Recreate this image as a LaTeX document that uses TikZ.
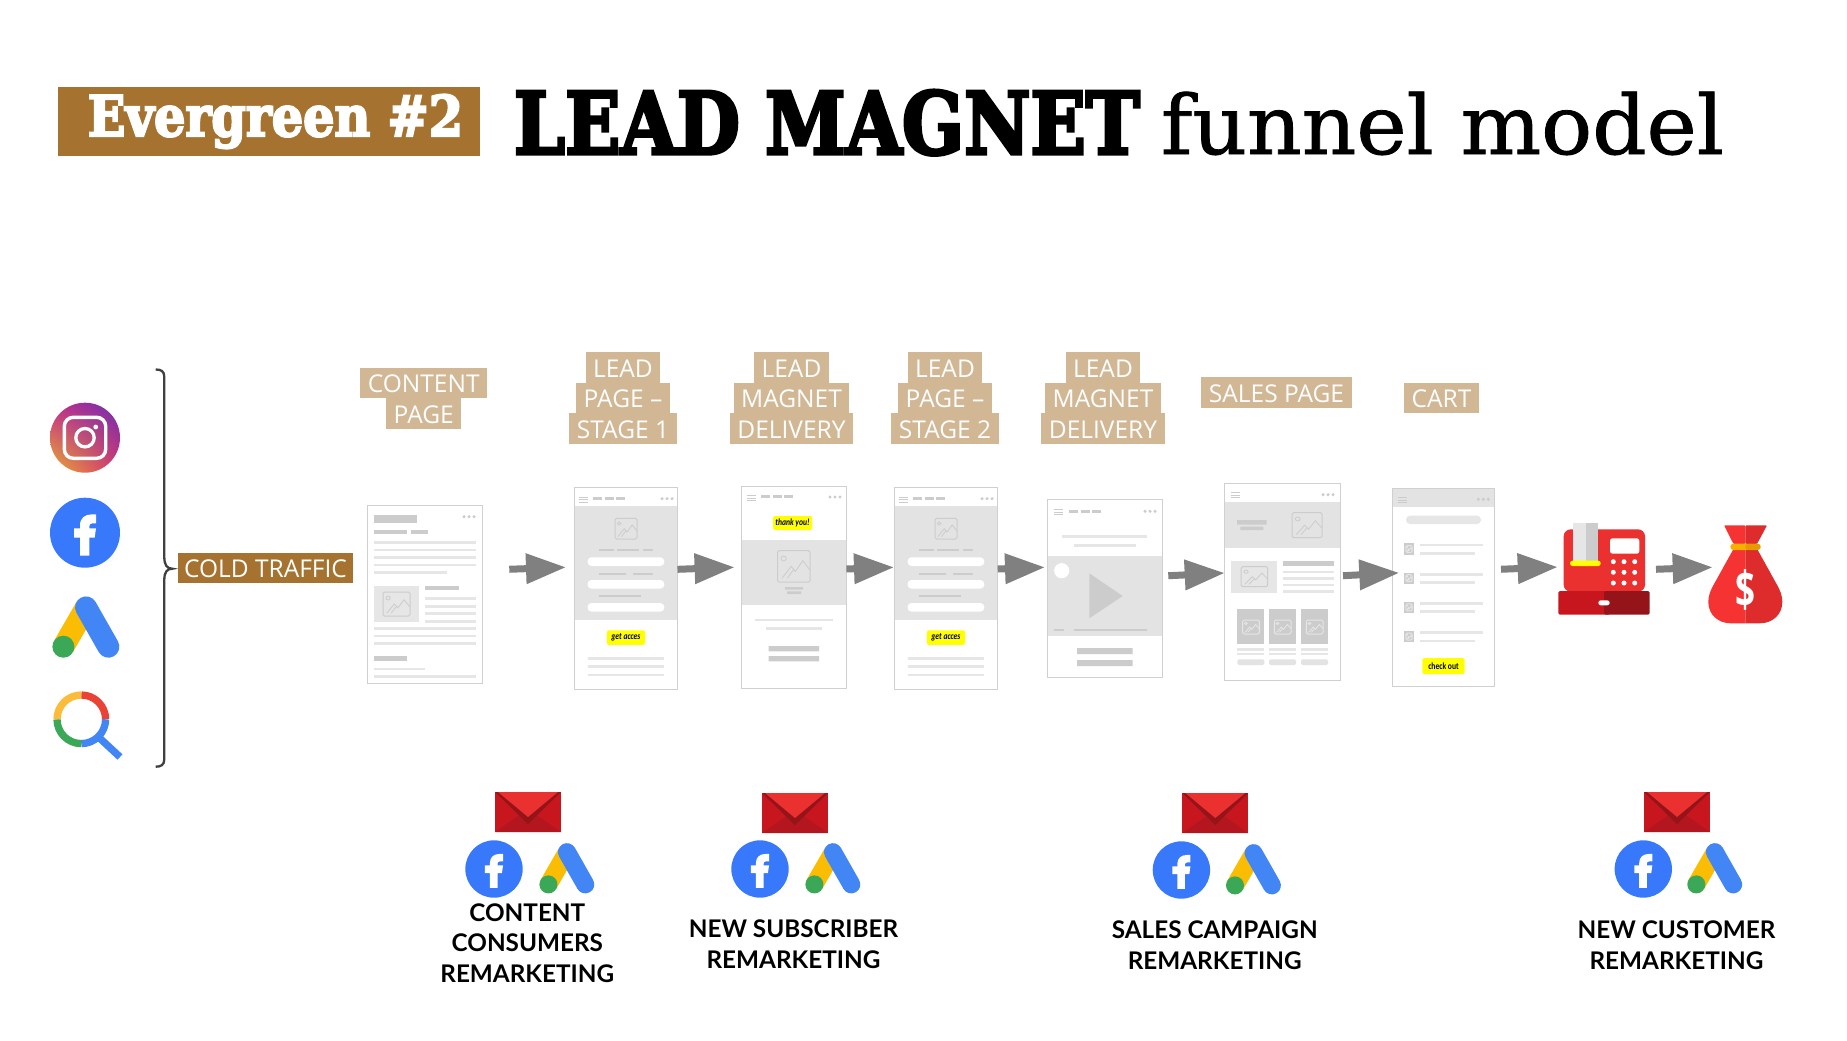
\documentclass[tikz,border=0pt]{standalone}
\usepackage{fontspec}
\usepackage{graphicx}
\usetikzlibrary{positioning, arrows.meta, shadings}
\newfontfamily\tagfont{Open Sans}
\newfontfamily\capfont{Lato}
\newfontfamily\btnfont{Carlito}
\newfontfamily\slabfont[FakeBold=1]{DejaVu Serif}
\newfontfamily\heavyslab[UprightFont={* Bold},FakeBold=4]{DejaVu Serif}
\definecolor{brownfill}{HTML}{A6722F}
\definecolor{tanfill}{HTML}{D2B795}
\definecolor{arrowgrey}{HTML}{808080}
\definecolor{barlight}{HTML}{E6E6E6}
\definecolor{bardark}{HTML}{CCCCCC}
\definecolor{bandgrey}{HTML}{E3E3E3}
\definecolor{edgegrey}{HTML}{D0D0D0}
\definecolor{ctayellow}{HTML}{FFFF00}
\definecolor{fbblue}{HTML}{3879FC}
\definecolor{adsyellow}{HTML}{FBBC04}
\definecolor{adsblue}{HTML}{4285F4}
\definecolor{adsgreen}{HTML}{3BA858}
\definecolor{lensred}{HTML}{EA4335}
\definecolor{lensyellow}{HTML}{FBBC3C}
\definecolor{redlight}{HTML}{EB3030}
\definecolor{redmid}{HTML}{C8161F}
\definecolor{reddeep}{HTML}{B3161F}
\definecolor{reddark}{HTML}{94141A}
\definecolor{bagleft}{HTML}{F53333}
\definecolor{bagright}{HTML}{DE2B2B}
\definecolor{instapink}{HTML}{C82A88}
\definecolor{instaviolet}{HTML}{6A30B5}
\definecolor{instagold}{HTML}{E8B030}
\definecolor{instarose}{HTML}{D83070}
\definecolor{tiegold}{HTML}{F5B000}
\definecolor{tiedark}{HTML}{E59A00}
\newcommand{\ctatext}[1]{\scalebox{.8}[1]{#1}}
\newcommand{\adsmark}[3]{\begin{scope}[shift={(#1,#2)},scale=#3]
	\draw[adsyellow,line width=#3*66] (-67,60) -- (1,-58);
	\draw[adsblue,line width=#3*66,line cap=round] (1,-58) -- (68,60);
	\fill[adsgreen] (-67,60) circle (33);
\end{scope}}
\newcommand{\imgmark}[5][bardark]{\begin{scope}[shift={(#2,#3)},xscale={(#4)-(#2)},yscale={(#5)-(#3)}]
	\draw[#1,line width=1,rounded corners=1.5] (0,0) rectangle (1,1);
	\draw[#1,line width=.8] (.19,.25) circle (.08);
	\draw[#1,line width=.8] (.14,.88) -- (.42,.5) -- (.55,.66) -- (.78,.32) -- (1,.62);
	\draw[#1,line width=.8] (.3,.88) -- (.5,.6);
\end{scope}}
\tikzset{
	tag/.style={fill=tanfill,text=white,font=\tagfont\fontsize{24.5}{30}\selectfont,inner xsep=7.5,inner ysep=0,outer sep=0,minimum height=30.5,text height=19.5,text depth=0},
	coldtag/.style={tag,fill=brownfill,inner xsep=6.5},
	rmk/.style={font=\capfont\bfseries\fontsize{24.3}{30.7}\selectfont,align=center,text=black},
	screen/.style={draw=edgegrey,line width=1,fill=white,inner sep=0,outer sep=0},
	holder/.style={inner sep=0,outer sep=0},
	cta/.style={fill=ctayellow,rounded corners=1.5,inner sep=0,outer sep=0,text=black,font=\btnfont\itshape\bfseries\fontsize{9.5}{10}\selectfont},
	flow/.style={draw=arrowgrey,line width=7,-{Triangle[length=40,width=29]}},
	lightbar/.style={draw=barlight,line width=2.6},
	darkbar/.style={draw=bardark,line width=3},
	fbicon/.pic={
		\fill[fbblue] (0,0) circle (105);
		\fill[white] (-15,69) -- (-15,15) -- (-33,15) -- (-33,-13) -- (-15,-13) -- (-15,-22) .. controls (-15,-44) and (0,-55) .. (20,-55) -- (33,-55) -- (33,-28) -- (22,-28) .. controls (16,-28) and (13,-25) .. (13,-19) -- (13,-13) -- (33,-13) -- (29,15) -- (13,15) -- (13,69) -- cycle;
	},
	menudots/.pic={
		\fill[bardark] (-5,0) circle (1.7) (0,0) circle (1.7) (5,0) circle (1.7);
	},
	burger/.pic={
		\draw[bardark,line width=.9] (-4.7,-2.4) -- (4.7,-2.4) (-4.7,0) -- (4.7,0) (-4.7,2.4) -- (4.7,2.4);
	},
	navbars/.pic={
		\draw[darkbar] (0,0) -- (9,0) (11.7,0) -- (20.7,0) (23.4,0) -- (32.4,0);
	},
	pill/.style={fill=white,rounded corners=4},
	mailicon/.pic={
		\fill[redmid] (-33,-20) rectangle (33,20);
		\fill[reddeep] (-33,20) -- (0,-3) -- (33,20) -- cycle;
		\fill[reddark] (-33,-20) -- (0,12) -- (33,-20) -- cycle;
		\fill[redlight] (-30,-20) -- (0,5) -- (30,-20) -- cycle;
	},
	formpage/.pic={
		\fill[bandgrey] (.5,18.7) rectangle (103,132.7);
		\pic at (9.5,12.3) {burger};
		\pic at (19,11) {navbars};
		\pic at (93,11.4) {menudots};
		\imgmark{41}{31}{63}{51.7}
		\draw[bardark,line width=1.8] (25,62.7) -- (40,62.7) (43,62.7) -- (65,62.7) (69,62.7) -- (78.5,62.7);
		\fill[pill] (13.5,70) rectangle (90.3,78.7);
		\draw[bardark,line width=1.8] (25,86.4) -- (52,86.4) (58.5,86.4) -- (78.5,86.4);
		\fill[pill] (13.5,92.7) rectangle (90.3,101.4);
		\draw[bardark,line width=1.8] (24.6,108.4) -- (67,108.4);
		\fill[pill] (13.5,115.7) rectangle (90.3,124.4);
		\node[cta,minimum width=38.2,minimum height=14.7] (-btn) at (51.9,150.3) {\ctatext{get acces}};
		\foreach \y in {171,179.4,187.7} \draw[lightbar] (13.5,\y) -- (90.3,\y);
	},
}
\begin{document}
\begin{tikzpicture}[x=1pt,y=-1pt]
	\useasboundingbox (0,0) rectangle (1847,1041);
	\node[coldtag,minimum width=422,minimum height=69,text height=,text depth=] (banner) at (269,121.5) {\raisebox{-5.5pt}{\hspace{13pt}\scalebox{.88}[1]{\heavyslab\fontsize{56}{60}\selectfont Evergreen \#2}}};
	\node[holder,anchor=base west] (titleA) at (514,154) {\scalebox{.845}[1]{\heavyslab\fontsize{86}{90}\selectfont LEAD MAGNET}};
	\node[holder,anchor=base west] (titleB) at (1161,154) {\scalebox{1.035}[1]{\slabfont\fontsize{82}{90}\selectfont funnel model}};

	\shade[upper left=instapink,upper right=instaviolet,lower left=instagold,lower right=instarose] (85,437.7) circle (35);
	\draw[white,line width=3.4,rounded corners=9] (64.3,417.3) rectangle (105.7,458.3);
	\draw[white,line width=3.3] (85,437.7) circle (9.2);
	\fill[white] (95.7,427) circle (2.4);
	\pic[scale=.3333] at (85,532.7) {fbicon};
	\adsmark{85.7}{626.7}{.3333}
	\draw[lensred,line width=7.3] (81.3,719.3) ++(270:24.3) arc (270:360:24.3);
	\draw[adsblue,line width=7.3] (81.3,719.3) ++(0:24.3) arc (0:90:24.3);
	\draw[adsgreen,line width=7.3] (81.3,719.3) ++(90:24.3) arc (90:180:24.3);
	\draw[lensyellow,line width=7.3] (81.3,719.3) ++(180:24.3) arc (180:270:24.3);
	\draw[adsblue,line width=7.3] (99,737.5) -- (120,757);
	\draw[black!75,line width=2.3] (155.7,369.5) .. controls (161,369.5) and (164.3,371) .. (164.3,377) -- (164.3,557) .. controls (164.3,565) and (167,568.7) .. (172.3,568.7) .. controls (167,568.7) and (164.3,572) .. (164.3,580) -- (164.3,759) .. controls (164.3,765) and (161,766.7) .. (155.7,766.7);
	\node[coldtag] (cold) at (265.5,568) {COLD TRAFFIC};

	\node[tag] (contentA) at (423.7,382.8) {CONTENT};
	\node[tag,below=0pt of contentA] (contentB) {PAGE};
	\node[tag] (leadA) at (623,367.5) {LEAD};
	\node[tag,below=0pt of leadA] (leadB) {PAGE –};
	\node[tag,below=0pt of leadB] (leadC) {STAGE 1};
	\node[tag] (magnetA) at (791.5,367.5) {LEAD};
	\node[tag,below=0pt of magnetA] (magnetB) {MAGNET};
	\node[tag,below=0pt of magnetB] (magnetC) {DELIVERY};
	\node[tag] (stageA) at (945,367.5) {LEAD};
	\node[tag,below=0pt of stageA] (stageB) {PAGE –};
	\node[tag,below=0pt of stageB] (stageC) {STAGE 2};
	\node[tag] (videoA) at (1103,367.5) {LEAD};
	\node[tag,below=0pt of videoA] (videoB) {MAGNET};
	\node[tag,below=0pt of videoB] (videoC) {DELIVERY};
	\node[tag] (sales) at (1276.5,392.5) {SALES PAGE};
	\node[tag] (cart) at (1441.5,398) {CART};

	\node[screen,minimum width=115,minimum height=178] (page1) at (425,594) {};
	\fill[bardark] (374,515) rectangle (416.7,523);
	\pic at (469,516.7) {menudots};
	\draw[bardark,line width=4.3] (374,532) -- (407,532) (410.7,532) -- (428,532);
	\foreach \y in {542.3,550,557.3,565} \draw[lightbar] (374,\y) -- (476,\y);
	\draw[lightbar] (374,572.3) -- (446.7,572.3);
	\fill[barlight] (374,585.7) rectangle (419.3,622.3);
	\imgmark{383}{592}{410}{616}
	\draw[bardark,line width=4.3] (425,588.2) -- (458.7,588.2);
	\foreach \y in {598.7,606.3,613.7,621.3} \draw[lightbar] (425,\y) -- (476,\y);
	\foreach \y in {628.7,636,643.7,676.3} \draw[lightbar] (374,\y) -- (476,\y);
	\draw[bardark,line width=4.5] (374,658.3) -- (407,658.3);
	\draw[lightbar] (374,669) -- (425,669);

	\node[screen,minimum width=103.5,minimum height=202] (page2) at (625.75,588.3) {};
	\pic (formA) at (574,487.3) {formpage};

	\node[screen,minimum width=104.6,minimum height=202] (page3) at (794.1,587.3) {};
	\pic at (751.5,498) {burger};
	\pic at (761,496.7) {navbars};
	\pic at (835,497) {menudots};
	\node[cta,minimum width=39,minimum height=14] (thanks) at (792.5,523) {\ctatext{thank you!}};
	\fill[bandgrey] (742.3,539.7) rectangle (845.9,605);
	\imgmark{777.5}{550.7}{810}{582}
	\fill[bardark] (785,587) rectangle (803,589.7) (787,591.3) rectangle (801,594);
	\draw[lightbar] (755,620) -- (833,620);
	\draw[lightbar] (766,628.3) -- (822,628.3);
	\fill[bardark] (768.6,646) rectangle (819,651.3) (768.6,656) rectangle (819,661.3);

	\node[screen,minimum width=103.7,minimum height=202] (page4) at (945.85,588.3) {};
	\pic (formB) at (894,487.3) {formpage};

	\node[screen,minimum width=115.4,minimum height=178.4] (page5) at (1105,588.5) {};
	\pic at (1058.5,512.3) {burger};
	\pic at (1069,511) {navbars};
	\pic at (1150,511.3) {menudots};
	\draw[lightbar] (1062.3,536.3) -- (1147.3,536.3);
	\draw[lightbar] (1074.3,545.7) -- (1135.7,545.7);
	\fill[bandgrey] (1047.8,556) rectangle (1162.2,636);
	\fill[white] (1061.7,570.7) circle (7.6);
	\fill[bardark] (1089.3,573.3) -- (1122.7,596) -- (1089.3,618.3) -- cycle;
	\draw[bardark,line width=2.2] (1054.3,630) -- (1064,630) (1073.7,630) -- (1147,630);
	\fill[bardark] (1077,648) rectangle (1132.7,654) (1077,660) rectangle (1132.7,666);

	\node[screen,minimum width=116,minimum height=196.6] (page6) at (1282.7,582) {};
	\pic at (1235.7,495.3) {burger};
	\pic at (1328,494.7) {menudots};
	\fill[bandgrey] (1225.2,502) rectangle (1340.2,548.3);
	\fill[bardark] (1237,520) rectangle (1266.7,524.7) (1240.3,526.7) rectangle (1263.3,530);
	\imgmark{1292}{512.7}{1322}{537.7}
	\fill[barlight] (1231,561) rectangle (1277.3,592.7);
	\imgmark{1241}{566.7}{1267.7}{586.7}
	\draw[bardark,line width=5] (1283,563.5) -- (1334.3,563.5);
	\foreach \y in {572,578.7,585,591.7} \draw[lightbar] (1283,\y) -- (1334.3,\y);
	\foreach \x in {1237.3,1269,1301} {
		\fill[bardark] (\x,609.3) rectangle ++(27,34.7);
		\imgmark[barlight]{\x+5.4}{620}{\x+22}{634}
		\draw[lightbar] (\x,649.3) -- ++(27,0);
		\draw[lightbar] (\x,654) -- ++(27,0);
		\fill[bandgrey,rounded corners=1.5] (\x,659.3) rectangle ++(27,5.7);
	}

	\node[screen,minimum width=102.4,minimum height=198] (page7) at (1443.5,587.3) {};
	\fill[bandgrey] (1392.8,488.8) rectangle (1494.2,507);
	\pic at (1402.3,500.3) {burger};
	\pic at (1483.3,499.3) {menudots};
	\fill[barlight,rounded corners=4] (1406,515.7) rectangle (1481,524);
	\foreach \y in {0,29.2,58.4,87.6} {
		\fill[bardark] (1404,543.3+\y) rectangle (1414,554.7+\y);
		\imgmark[barlight]{1405.8}{545.5+\y}{1412.2}{552.5+\y}
		\draw[lightbar] (1420,545+\y) -- (1483,545+\y);
		\draw[lightbar] (1420,553.3+\y) -- (1475.3,553.3+\y);
	}
	\node[cta,minimum width=42.4,minimum height=16,font=\btnfont\bfseries\fontsize{9.5}{10}\selectfont] (checkout) at (1443.5,666) {\ctatext{check out}};

	\node[holder,minimum width=91.4,minimum height=91.4] (till) at (1604,569) {};
	\fill[redlight,rounded corners=7] (1563.7,591.7) -- (1563.7,529.3) -- (1645,529.3) -- (1645,591.7) -- cycle;
	\fill[barlight] (1573.3,523.3) rectangle (1585.7,563.3);
	\fill[bardark] (1585.7,523.3) rectangle (1598.3,563.3);
	\fill[ctayellow,rounded corners=2.5] (1570,560.7) rectangle (1600.7,566);
	\fill[white,rounded corners=2.5] (1610,538.3) rectangle (1639.3,553.7);
	\foreach \x in {1613.3,1624,1634.7} \foreach \y in {561.7,572.3,583} \fill[white] (\x,\y) circle (2.5);
	\fill[redmid,rounded corners=1.5] (1558.3,591) rectangle (1610,614.7);
	\fill[reddark,rounded corners=1.5] (1604,591) rectangle (1649.7,614.7);
	\fill[white,rounded corners=2.5] (1598.3,600.3) rectangle (1609.7,605.3);

	\node[holder,minimum width=73.6,minimum height=98] (bag) at (1745.5,574.3) {};
	\fill[bagleft,rounded corners=1] (1745.3,525.3) -- (1724,525.3) -- (1733.5,544) -- (1745.3,544) -- cycle;
	\fill[bagright,rounded corners=1] (1745.3,525.3) -- (1767,525.3) -- (1757,544) -- (1745.3,544) -- cycle;
	\fill[bagleft] (1745.3,550) -- (1732.9,550) -- (1714.6,583) .. controls (1710.6,590) and (1708.3,595) .. (1708.3,602) .. controls (1708.3,615) and (1718.6,623.3) .. (1730.6,623.3) -- (1745.3,623.3) -- cycle;
	\fill[bagright] (1745.3,550) -- (1757.7,550) -- (1776,583) .. controls (1780,590) and (1782.3,595) .. (1782.3,602) .. controls (1782.3,615) and (1772,623.3) .. (1760,623.3) -- (1745.3,623.3) -- cycle;
	\fill[tiegold,rounded corners=3] (1730.3,543.7) rectangle (1750,550);
	\fill[tiedark,rounded corners=3] (1745.3,543.7) rectangle (1760.7,550);
	\node[holder,text=white,font=\tagfont\bfseries\fontsize{50}{52}\selectfont] (dollar) at (1745.3,590) {\scalebox{.7}[1]{\$}};

	\draw[flow,shorten <=26.8,shorten >=8] ([yshift=23.8]page1.east) -- ([yshift=21.3]page2.west);
	\draw[flow,shorten >=7.2] ([yshift=19]page2.east) -- ([yshift=20.3]page3.west);
	\draw[flow] ([yshift=18.3]page3.east) -- ([yshift=21]page4.west);
	\draw[flow,shorten >=2.3] ([yshift=19.3]page4.east) -- ([yshift=21.3]page5.west);
	\draw[flow,shorten <=5.6] ([yshift=12.5]page5.east) -- ([yshift=9]page6.west);
	\draw[flow,shorten <=2.3,shorten >=-7] ([yshift=6.2]page6.east) -- ([yshift=14.1]page7.west);
	\draw[flow,shorten <=6.3,shorten >=.6] ([yshift=17.8]page7.east) -- ([yshift=2]till.west);
	\draw[flow,shorten <=6.3,shorten >=-4] ([yshift=-.5]till.east) -- ([yshift=6.9]bag.west);

	\pic at (528,812) {mailicon};
	\pic at (795,813) {mailicon};
	\pic at (1215.3,813) {mailicon};
	\pic at (1677,812) {mailicon};
	\pic[scale=.2733] at (494,869) {fbicon};
	\pic[scale=.2733] at (760,869) {fbicon};
	\pic[scale=.2733] at (1181.4,870) {fbicon};
	\pic[scale=.2733] at (1643.3,869) {fbicon};
	\adsmark{566.7}{868}{.2733}
	\adsmark{832.7}{868}{.2733}
	\adsmark{1253.3}{869}{.2733}
	\adsmark{1714.6}{868}{.2733}
	\node[rmk] (rmkA) at (527.3,943) {CONTENT\\CONSUMERS\\REMARKETING};
	\node[rmk] (rmkB) at (793.5,944.5) {NEW SUBSCRIBER\\REMARKETING};
	\node[rmk] (rmkC) at (1214.7,945.5) {SALES CAMPAIGN\\REMARKETING};
	\node[rmk] (rmkD) at (1676.5,945) {NEW CUSTOMER\\REMARKETING};
\end{tikzpicture}
\end{document}
